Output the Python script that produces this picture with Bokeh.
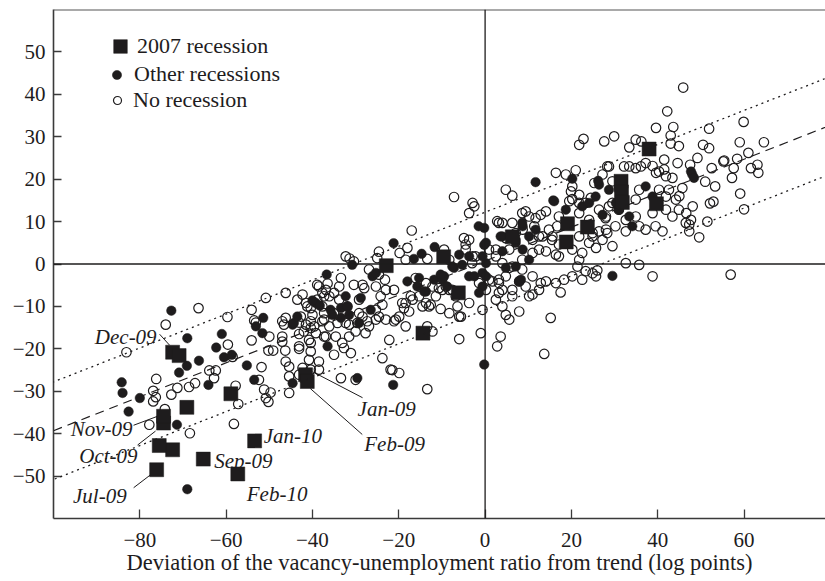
from bokeh.plotting import figure
from bokeh.models import (ColumnDataSource, Span, Slope, Legend, LegendItem,
                          FixedTicker)
from bokeh.core.properties import value
from bokeh.embed import file_html
from bokeh.resources import INLINE

# ---------------- data ----------------
x_ticks = [-80, -60, -40, -20, 0, 20, 40, 60]
x_tick_labels = ["\u221280", "\u221260", "\u221240", "\u221220", "0", "20", "40", "60"]
y_ticks = [-50, -40, -30, -20, -10, 0, 10, 20, 30, 40, 50]
y_tick_labels = ["\u221250", "\u221240", "\u221230", "\u221220", "\u221210", "0",
                 "10", "20", "30", "40", "50"]
x_title = "Deviation of the vacancy-unemployment ratio from trend (log points)"

no_rec_x = [
    -83.1, -74.0, -66.4, -59.7, -54.1, -50.8, -46.2, -76.2, -76.9, -76.3,
    -76.9, -77.8, -74.2, -72.7, -71.3, -68.6, -67.2, -63.9, -62.4, -62.8,
    -59.6, -58.5, -57.8, -57.2, -58.2, -68.4, -54.1, -53.1, -51.8, -52.4,
    -51.2, -50.8, -50.2, -49.7, -50.2, -49.1, -47.0, -46.6, -47.0, -46.3,
    -46.2, -45.4, -45.4, -53.5, -50.0, -42.3, -45.4, -43.5, -42.3, -43.1,
    -42.7, -41.5, -40.4, -43.1, -42.0, -40.4, -43.1, -40.4, -40.4, -40.8,
    -38.5, -40.4, -38.5, -43.1, -38.5, -36.9, -37.3, -38.9, -41.2, -37.3,
    -39.2, -37.3, -32.3, -31.4, -30.4, -38.9, -36.5, -33.4, -33.8, -37.7,
    -26.9, -24.6, -23.2, -25.3, -23.0, -21.1, -28.4, -28.0, -30.4, -29.2,
    -24.2, -23.8, -25.3, -24.6, -23.0, -28.4, -27.3, -19.9, -21.1, -41.5,
    -40.4, -36.1, -37.7, -40.0, -37.7, -35.0, -33.8, -34.2, -32.3, -31.5,
    -46.2, -39.6, -36.1, -47.0, -43.1, -40.8, -37.3, -35.0, -36.9, -34.6,
    -33.1, -31.5, -31.1, -35.0, -32.7, -30.0, -29.6, -31.9, -29.2, -27.7,
    -26.9, -25.3, -22.2, -23.8, -21.5, -19.9, -33.4, -20.7, -18.4, -17.6,
    -19.2, -16.8, -14.5, -13.0, -12.2, -13.7, -9.9, -8.3, -6.4, -5.6,
    -6.0, -10.3, -13.4, -21.9, -30.0, -13.4, -12.2, -1.0, 3.6, 2.8,
    7.9, 4.8, 15.2, 13.7, -6.0, -7.2, -17.0, -18.0, -19.8, -18.4,
    -24.6, -25.0, -13.4, -9.5, -16.1, -15.3, -13.7, -12.6, -11.4, -10.7,
    -9.1, -7.6, -18.4, -18.8, -17.2, 4.8, 6.3, -3.7, -2.5, -8.3,
    -4.9, -4.5, -2.2, -3.0, 2.5, 4.0, 5.6, 3.2, 4.0, 6.3,
    2.5, 4.0, 5.6, -0.6, -3.7, -6.8, -8.3, -2.9, 16.4, 18.7,
    21.0, 20.2, 21.8, 25.3, 27.2, 28.7, 29.5, 24.5, 26.4, 29.5,
    27.9, 30.2, 28.3, 27.2, 24.9, 25.7, 29.5, 9.4, 10.2, 12.9,
    14.1, 11.4, 8.7, 7.1, 4.0, 2.8, 4.8, 12.5, 14.8, 16.7,
    15.5, 12.5, 14.1, 11.0, 16.4, 22.5, 21.8, 23.3, 24.9, 25.7,
    20.2, 18.3, 16.4, 14.1, 11.0, 7.9, 4.8, 1.7, -1.4, -3.7,
    -4.5, -2.9, 19.9, 20.2, 21.8, 45.9, 42.2, 39.6, 43.6, 43.0,
    43.0, 44.9, 44.6, 41.5, 38.8, 51.9, 50.5, 51.9, 59.9, 59.0,
    61.0, 63.1, 61.6, 64.6, 58.4, 57.6, 57.2, 55.2, 52.5, 51.0,
    53.3, 52.1, 52.9, 59.1, 60.0, 51.5, 49.6, 47.3, 46.6, 48.1,
    45.0, 42.6, 45.7, 47.5, 49.2, 21.8, 22.8, 27.6, 29.9, 33.4,
    36.2, 28.3, 32.2, 34.9, 37.2, 40.3, 41.9, 43.4, 40.3, 41.9,
    44.2, 44.9, 46.5, 47.7, 47.3, 43.4, 41.9, 38.8, 35.7, 34.9,
    34.9, 35.7, 37.2, 39.5, 41.1, 32.6, 32.6, 31.0, 28.7, 28.0,
    28.0, 24.9, 24.1, 21.8, 23.3, 19.5, 17.1, 11.7, 8.6, 6.3,
    3.2, 2.5, 5.6, 8.6, 11.0, 13.3, 15.6, 17.1, 20.2, 21.8,
    24.1, 26.4, 17.1, 21.4, 26.0, 32.6, 35.7, 38.8, 56.9, 22.5,
    17.5, 11.0, 0.9, 6.3, 8.6, 3.2, 0.9, 0.2, 3.2, 6.3,
    9.4, 12.5, 10.2, 12.9, 34.9, 36.1, 33.4, 41.5, 39.6, 55.4,
    63.3,
]
no_rec_y = [
    -20.8, -14.3, -10.4, -12.5, -10.8, -8.0, -6.8, -27.1, -29.9, -31.4,
    -32.4, -37.9, -34.2, -30.8, -29.2, -29.0, -28.1, -25.1, -25.1, -26.9,
    -19.0, -21.9, -28.7, -33.0, -37.7, -39.9, -18.0, -13.8, -24.3, -27.3,
    -29.6, -31.6, -32.5, -30.3, -20.4, -20.4, -13.5, -14.3, -18.3, -20.4,
    -23.0, -30.4, -26.5, -13.3, -17.1, -24.5, -24.2, -8.4, -7.2, -13.8,
    -12.4, -14.3, -13.5, -16.5, -15.9, -15.1, -20.0, -18.6, -20.6, -22.6,
    -23.0, -24.9, -24.9, -26.1, -5.3, -6.1, -7.6, -8.4, -10.0, -11.6,
    -16.3, -17.1, 1.8, 1.3, 0.6, -4.9, -4.6, -3.3, -5.3, -6.8,
    -1.3, -2.5, -3.7, -5.3, -6.1, -6.1, -4.9, -5.7, -4.9, -8.4,
    -7.6, -9.6, -10.8, -12.4, -13.1, -12.4, -13.5, -12.4, -13.5, -9.2,
    -10.4, -7.6, -10.0, -12.0, -13.5, -6.8, -8.4, -13.9, -13.9, -14.3,
    -12.7, -14.7, -14.7, -17.1, -19.4, -17.9, -13.1, -11.6, -17.1, -17.1,
    -18.6, -17.1, -21.0, -21.4, -19.8, -15.9, -13.9, -10.0, -11.6, -16.3,
    -14.7, -13.1, -17.9, -22.2, -25.0, -25.7, -26.9, -13.1, -14.7, -11.2,
    -9.2, -8.4, -10.0, -10.0, -5.3, -4.5, -6.1, -6.1, -10.0, -12.4,
    -17.7, -10.6, -29.5, -24.9, -27.3, -14.7, -15.9, -16.3, -17.1, -19.4,
    -11.2, -12.0, -12.7, -21.2, -12.4, 15.8, 7.9, 3.8, 2.6, 1.0,
    2.9, 1.4, 1.2, 3.4, -3.3, -7.6, -9.2, -9.6, -7.6, -5.7,
    -5.3, -6.1, -9.2, -10.4, -7.6, 17.5, 16.1, 12.0, 13.6, 1.0,
    6.1, 4.6, 1.8, 0.2, 1.8, 0.2, -0.9, -3.7, -6.1, -7.6,
    -8.4, -10.0, -13.1, -10.8, -9.2, -7.6, -11.6, 14.4, 21.5, 21.1,
    22.1, 18.3, 16.3, 19.1, 21.1, 23.0, 19.5, 15.6, 12.8, 14.4,
    10.8, 8.9, 7.3, 5.7, 7.3, 3.8, 4.2, 12.4, 11.2, 11.6,
    12.4, 8.9, 8.1, 7.3, 9.7, 10.1, 6.1, 6.5, 8.1, 8.9,
    5.7, 3.4, 3.0, 2.6, 2.2, 2.6, 1.0, -1.7, -2.2, -2.9,
    -2.9, -3.7, -4.5, -4.1, -2.9, -4.1, -2.9, -4.1, -4.5, 5.7,
    3.4, 1.8, 17.1, 15.3, 14.4, 41.6, 36.0, 32.1, 32.3, 30.3,
    28.4, 27.8, 23.8, 22.3, 23.1, 31.9, 28.1, 27.3, 33.5, 28.7,
    26.2, 23.4, 22.6, 28.7, 24.8, 22.6, 20.3, 24.2, 22.6, 19.4,
    18.3, 14.3, 14.7, 16.6, 12.9, 10.0, 6.3, 9.3, 12.0, 13.6,
    16.0, 17.5, 17.9, 23.4, 25.0, 28.1, 29.5, 28.9, 30.1, 27.5,
    28.9, 23.0, 23.0, 22.6, 23.8, 21.8, 20.7, 20.3, 17.5, 15.9,
    15.2, 12.8, 9.7, 10.4, 7.7, 11.2, 12.8, 12.0, 17.5, 15.2,
    11.2, 8.9, 8.1, 8.9, 7.7, 7.7, 10.4, 12.8, 13.6, 11.2,
    8.1, 6.5, 10.4, 12.0, 14.4, 14.8, 11.2, 10.8, 12.0, 9.7,
    9.7, 3.4, 3.4, 1.0, 5.7, 6.5, 6.5, 4.6, 3.4, 6.5,
    5.0, 7.7, 1.8, -0.6, -1.5, 0.2, -0.2, -2.9, -2.5, -3.7,
    -6.7, -7.2, 3.4, -0.6, -1.3, -4.5, -3.7, -6.1, -6.8, -6.1,
    -5.3, -6.1, -7.6, -4.5, 29.3, 23.0, 23.0, 24.6, 21.5, 24.4,
    21.5,
]

other_x = [
    -72.7, -69.0, -61.0, -62.3, -60.5, -66.3, -69.1, -70.9, -64.1, -58.7,
    -55.2, -53.5, -51.4, -51.6, -53.1, -84.2, -84.0, -80.0, -82.6, -71.4,
    -69.0, -44.6, -44.6, -36.5, -39.2, -21.2, -11.7, -14.7, -16.5, -30.8,
    -36.7, -26.1, -25.3, -18.0, -15.3, -13.7, -15.7, -28.8, -26.5, -38.3,
    -35.8, -33.4, -31.9, -31.5, -35.4, -33.4, -44.3, -43.5, -29.2, -40.0,
    -32.3, -29.6, -14.1, -11.8, -9.9, -8.8, -10.3, -7.2, -5.3, -3.7,
    -2.5, -0.6, 0.2, -0.2, -1.5, -3.7, 4.0, 7.1, 8.7, 8.3,
    7.1, -0.6, -1.4, -0.2, -21.3, 11.7, 20.2, 15.8, 18.7, 22.5,
    26.4, 28.7, 27.2, 3.6, 10.2, 8.7, 11.7, 10.2, -0.6, -6.0,
    -7.6, -9.5, 0.2, 4.8, 47.7, 48.0, 48.4, 26.2, 29.5, 31.0,
    30.3, 31.0, 25.6, 24.1, 16.0, 8.6, 7.1, 4.0, 0.2, 33.4,
    34.1, 37.2, 38.8, -0.2, 7.9,
]
other_y = [
    -11.0, -17.5, -16.5, -19.7, -22.0, -22.8, -24.0, -25.6, -28.5, -21.4,
    -23.9, -27.3, -12.7, -16.3, -14.7, -27.9, -30.4, -31.6, -34.8, -37.9,
    -53.1, -28.1, -14.3, -19.4, -9.2, 4.9, 4.0, 2.4, 1.2, -0.2,
    -2.5, -2.9, -2.1, -4.1, -3.3, -6.5, -5.3, -8.0, -10.8, -9.8,
    -10.8, -10.4, -10.0, -12.0, -12.0, -12.7, -13.9, -12.4, -13.9, -8.6,
    -7.6, -26.9, -6.5, -3.7, -3.7, -5.3, -2.5, -0.9, -0.2, -2.9,
    -2.9, -2.1, 0.2, 4.5, 8.9, 1.8, 3.0, 5.7, 8.9, -3.7,
    -0.6, -5.3, -6.8, -23.7, -28.5, 19.3, 20.1, 15.0, 12.8, 13.6,
    18.7, 17.5, 11.6, 6.5, 6.5, 3.4, 8.1, 1.0, 1.8, 2.2,
    -0.6, -2.9, -2.9, -0.9, 21.8, 21.1, 20.3, 19.6, -2.8, 17.5,
    14.4, 12.8, 15.9, 14.4, 14.8, 9.7, 5.0, 6.5, 5.0, 11.2,
    8.9, 18.3, 15.9, 8.5, -4.1,
]

rec07_x = [-76.1, -72.4, -75.5, -65.3, -74.5, -74.5, -72.4, -70.9, -69.1, -58.9,
           -53.4, -57.3, -41.6, -41.2, -22.9, -14.4, -9.6, -6.2, 6.3, 18.8,
           19.1, 23.7, 31.5, 31.6, 31.8, 38.0, 39.7]
rec07_y = [-48.5, -43.8, -42.8, -46.0, -37.5, -35.9, -20.8, -21.6, -33.8, -30.6,
           -41.7, -49.5, -26.1, -27.7, -0.4, -16.3, 1.7, -6.8, 6.4, 5.2,
           9.5, 8.7, 19.5, 17.0, 14.5, 27.1, 14.2]
rec07_label = ["Jul-09", "", "", "Sep-09", "Oct-09", "Nov-09", "Dec-09", "", "", "",
               "Jan-10", "Feb-10", "Jan-09", "Feb-09", "", "", "", "", "", "",
               "", "", "", "", "", "", ""]

reg_slope = 0.40
reg_intercept = 0.7
reg_band = 11.5

series_names = ["2007 recession", "Other recessions", "No recession"]

# ---------------- style ----------------
INK = "#1e1c1d"
AXIS = "#3a3a3a"
SERIF = "Liberation Serif"
FIG_W, FIG_H = 825, 581
B_LEFT, B_RIGHT, B_TOP, B_BOTTOM = 53, 0, 9, 63
FRAME_W = FIG_W - B_LEFT - B_RIGHT
FRAME_H = FIG_H - B_TOP - B_BOTTOM
X_RANGE = (-100, -100 + FRAME_W / 4.316)
Y_RANGE = (-60, 60)
PPX = FRAME_W / (X_RANGE[1] - X_RANGE[0])
PPY = FRAME_H / (Y_RANGE[1] - Y_RANGE[0])

# label placement: (align, text offset px, leader (start px, end px) or None)
ANNOT = {
    "Dec-09": ("right", (-16, -15), ((-13, -18), (-3, -7))),
    "Nov-09": ("right", (-31, 13), ((-30, 9), (-6, 0))),
    "Oct-09": ("right", (-26, 33), ((-26, 22), (-8, 8))),
    "Jul-09": ("right", (-30, 26), ((-23, 18), (-6, 5))),
    "Sep-09": ("left", (11, 2), None),
    "Jan-10": ("left", (9, -5), None),
    "Feb-10": ("left", (9, 20), None),
    "Jan-09": ("left", (52, 34), ((7, -3), (57, 23))),
    "Feb-09": ("left", (57, 63), ((3, 7), (55, 53))),
}

p = figure(width=FIG_W, height=FIG_H, x_range=X_RANGE, y_range=Y_RANGE,
           output_backend="svg", toolbar_location=None,
           min_border_left=B_LEFT, min_border_right=B_RIGHT,
           min_border_top=B_TOP, min_border_bottom=B_BOTTOM)
p.grid.visible = False
p.outline_line_color = None
p.background_fill_color = "white"
p.border_fill_color = "white"

# axes
for ax in (p.xaxis[0], p.yaxis[0]):
    ax.axis_line_color = AXIS
    ax.axis_line_width = 1.6
    ax.major_tick_line_color = AXIS
    ax.major_tick_line_width = 1.3
    ax.major_tick_out = 0
    ax.minor_tick_line_color = None
    ax.major_label_text_font = SERIF
    ax.major_label_text_font_size = "21px"
    ax.major_label_text_color = INK

p.xaxis.ticker = FixedTicker(ticks=x_ticks)
p.xaxis.major_label_overrides = {t: l for t, l in zip(x_ticks, x_tick_labels)}
p.xaxis.major_tick_in = 9
p.xaxis.major_label_standoff = 14
p.xaxis.axis_label = x_title
p.xaxis.axis_label_text_font = SERIF
p.xaxis.axis_label_text_font_size = "22.5px"
p.xaxis.axis_label_text_font_style = "normal"
p.xaxis.axis_label_text_color = INK
p.xaxis.axis_label_standoff = 0

p.yaxis.ticker = FixedTicker(ticks=y_ticks)
p.yaxis.major_label_overrides = {t: l for t, l in zip(y_ticks, y_tick_labels)}
p.yaxis.major_tick_in = 8
p.yaxis.major_label_standoff = 8

# top frame edge
p.add_layout(Span(location=Y_RANGE[1], dimension="width",
                  line_color="#555555", line_width=2))

# zero lines
p.add_layout(Span(location=0, dimension="height", line_color=INK, line_width=1.3))
p.add_layout(Span(location=0, dimension="width", line_color=INK, line_width=1.3))

# regression line and band
p.add_layout(Slope(gradient=reg_slope, y_intercept=reg_intercept,
                   line_color=INK, line_width=1.2, line_dash="9 6"))
for s in (-1, 1):
    p.add_layout(Slope(gradient=reg_slope, y_intercept=reg_intercept + s * reg_band,
                       line_color=INK, line_width=1.3, line_dash="2 4"))

# points
r_no = p.scatter(no_rec_x, no_rec_y, marker="circle", size=9.5,
                 fill_color=None, line_color=INK, line_width=1.2)
r_other = p.scatter(other_x, other_y, marker="circle", size=9.5,
                    fill_color=INK, line_color=INK, line_width=0.5)
r_sq = p.scatter(rec07_x, rec07_y, marker="square", size=14,
                 fill_color=INK, line_color=INK, line_width=0.5)

# annotations
for align in ("right", "left"):
    xs, ys, txt, dxs, dys = [], [], [], [], []
    for x, y, lab in zip(rec07_x, rec07_y, rec07_label):
        if lab and ANNOT[lab][0] == align:
            xs.append(x); ys.append(y); txt.append(lab)
            dxs.append(ANNOT[lab][1][0]); dys.append(ANNOT[lab][1][1])
    src = ColumnDataSource(dict(x=xs, y=ys, text=txt, dx=dxs, dy=dys))
    p.text(x="x", y="y", text="text", x_offset="dx", y_offset="dy", source=src,
           text_align=align, text_baseline="alphabetic",
           text_font=value(SERIF), text_font_style="italic",
           text_font_size="21px", text_color=INK)

lx0, ly0, lx1, ly1 = [], [], [], []
for x, y, lab in zip(rec07_x, rec07_y, rec07_label):
    if lab and ANNOT[lab][2]:
        (a, b), (c, d) = ANNOT[lab][2]
        lx0.append(x + a / PPX); ly0.append(y - b / PPY)
        lx1.append(x + c / PPX); ly1.append(y - d / PPY)
p.segment(lx0, ly0, lx1, ly1, line_color=INK, line_width=1.0)

# legends (one per marker so each marker keeps its own size)
def make_legend(label, rend, box, loc, standoff):
    lg = Legend(items=[LegendItem(label=label, renderers=[rend])],
                location=loc, glyph_width=box, glyph_height=box,
                label_height=box, padding=0, margin=0, spacing=0,
                label_standoff=standoff, border_line_color=None,
                background_fill_alpha=0,
                label_text_font=SERIF, label_text_font_size="22px",
                label_text_color=INK)
    p.add_layout(lg)

make_legend(series_names[0], r_sq, 34, (50, 455), 0)
make_legend(series_names[1], r_other, 23, (52, 431), 6)
make_legend(series_names[2], r_no, 20, (54, 405), 6)

open("out.html", "w").write(file_html(p, INLINE))
